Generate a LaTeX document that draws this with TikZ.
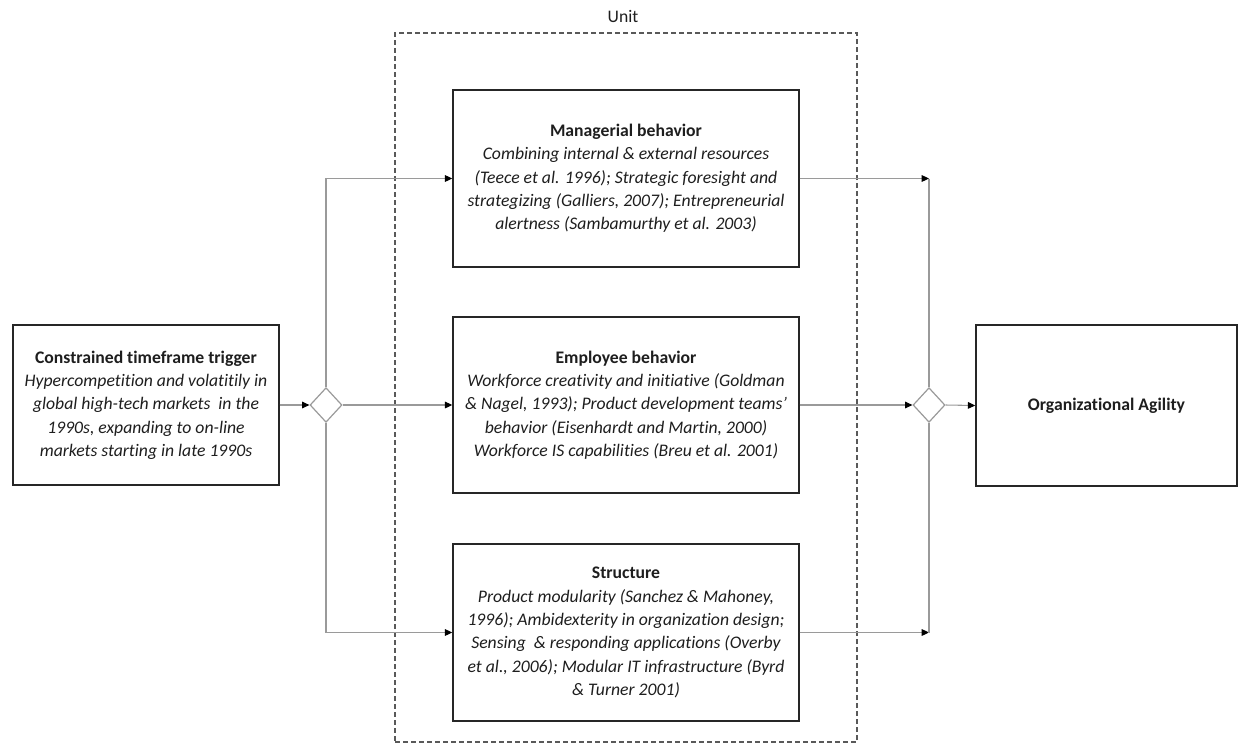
\documentclass[tikz,border=0pt]{standalone}
\usepackage{fontspec}
\setmainfont{Carlito}[Ligatures=NoCommon]
\usetikzlibrary{arrows.meta,shapes.geometric}
\definecolor{txt}{HTML}{1E1E1E}
\definecolor{conn}{HTML}{9A9A9A}
\definecolor{dash}{HTML}{595959}
\begin{document}
\begin{tikzpicture}[x=0.75pt,y=-0.75pt,
  box/.style={draw=black!85, line width=1.1pt, fill=white, align=center, inner sep=0pt,
    font=\fontsize{13.25}{17.5}\selectfont, text=txt},
  gate/.style={draw=conn, line width=0.9pt, diamond, aspect=0.92, inner sep=0pt,
    minimum width=24pt, minimum height=26pt, fill=white},
  conn/.style={draw=conn, line width=0.8pt},
  arr/.style={conn, -{Triangle[length=5.5pt,width=5pt,fill=black,color=black]}},
  unitbox/.style={draw=dash, line width=0.8pt, dash pattern=on 3.6pt off 2.4pt}
]
\useasboundingbox (0,0) rectangle (1238,743);
% Unit dashed box
\node[unitbox, minimum width=346.5pt, minimum height=531.75pt, inner sep=0pt] (unit) at (626,387.5) {};
\node[font=\fontsize{13.25}{15}\selectfont, text=txt] (unitlbl) at (623,16) {Unit};
% boxes
\node[box, minimum width=199.5pt, minimum height=120pt] (trig) at (146,405)
 {\textbf{Constrained timeframe trigger}\\ \itshape Hypercompetition and volatitily in\\ \itshape global high-tech markets\ \ in the\\ \itshape 1990s, expanding to on-line\\ \itshape markets starting in late 1990s};
\node[box, minimum width=259.5pt, minimum height=132.75pt] (mgr) at (626,178.5)
 {\textbf{Managerial behavior}\\ \itshape Combining internal \& external resources\\ \itshape (Teece et al. 1996); Strategic foresight and\\ \itshape strategizing (Galliers, 2007); Entrepreneurial\\ \itshape alertness (Sambamurthy et al. 2003)};
\node[box, minimum width=259.5pt, minimum height=132pt] (emp) at (626,405)
 {\textbf{Employee behavior}\\ \itshape Workforce creativity and initiative (Goldman\\ \itshape \& Nagel, 1993); Product development teams'\\ \itshape behavior (Eisenhardt and Martin, 2000)\\ \itshape Workforce IS capabilities (Breu et al. 2001)};
\node[box, minimum width=259.5pt, minimum height=132.75pt] (str) at (626,632.5)
 {\textbf{Structure}\\ \itshape Product modularity (Sanchez \& Mahoney,\\ \itshape 1996); Ambidexterity in organization design;\\ \itshape Sensing\ \ \& responding applications (Overby\\ \itshape et al., 2006); Modular IT infrastructure (Byrd\\ \itshape \& Turner 2001)};
\node[box, minimum width=195.75pt, minimum height=120.75pt] (agil) at (1106.5,405.5)
 {\textbf{Organizational Agility}};
% gates
\node[gate] (dL) at (326,405) {};
\node[gate] (dR) at (929,405) {};
% corner coordinates
\coordinate (lt) at (dL |- mgr.west);
\coordinate (lb) at (dL |- str.west);
\coordinate (rt) at (dR |- mgr.east);
\coordinate (rb) at (dR |- str.east);
% connectors
\draw[arr] (trig.east) -- (dL.west);
\draw[arr] (dL.east) -- (emp.west);
\draw[arr] (dL.north) -- (lt) -- (mgr.west);
\draw[arr] (dL.south) -- (lb) -- (str.west);
\draw[arr] (mgr.east) -- (rt);
\draw[arr] (str.east) -- (rb);
\draw[arr] (emp.east) -- (dR.west);
\draw[conn] (rt) -- (dR.north);
\draw[conn] (rb) -- (dR.south);
\draw[arr] (dR.east) -- (agil.west);
\end{tikzpicture}
\end{document}
